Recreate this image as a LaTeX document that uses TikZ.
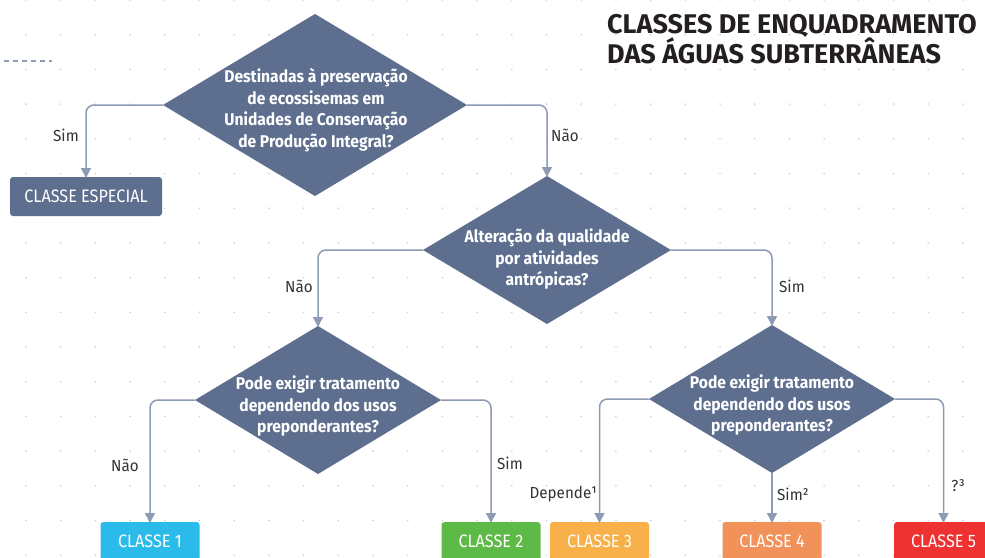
\documentclass[tikz,border=0pt]{standalone}
\usepackage{fontspec}
\setmainfont{Fira Sans}
\newfontfamily\cond[FakeStretch=0.92]{Fira Sans}
\newfontfamily\boxfont[FakeStretch=0.9]{Fira Sans}
\newfontfamily\labfont[FakeStretch=0.95]{Fira Sans}
\newfontfamily\titlefont{Fira Sans}
\usetikzlibrary{shapes.geometric,arrows.meta}
\definecolor{slate}{HTML}{5D6E8E}
\definecolor{conn}{HTML}{8D9BB4}
\definecolor{lbl}{HTML}{333333}
\definecolor{ttl}{HTML}{231F20}
\definecolor{dotc}{HTML}{CFCFCF}
\definecolor{cA}{HTML}{2ABBEB}
\definecolor{cB}{HTML}{5EBA47}
\definecolor{cC}{HTML}{F8B04B}
\definecolor{cD}{HTML}{F1925A}
\definecolor{cE}{HTML}{EE3131}
\tikzset{
  dia/.style={shape=diamond, fill=slate, draw=none, inner sep=0pt, outer sep=0pt},
  diatext/.style={text=white, font=\cond\fontsize{17}{21.5}\selectfont\bfseries, align=center, inner sep=0pt},
  classbox/.style={rectangle, rounded corners=3pt, minimum width=99pt, minimum height=39pt, inner sep=0pt, outer sep=0pt, text=white, font=\boxfont\fontsize{18}{20}\selectfont},
  conn/.style={draw=conn, line width=1.5pt, rounded corners=8pt, -{Triangle[length=10pt,width=10pt]}},
  lab/.style={text=lbl, font=\labfont\fontsize{16}{18}\selectfont, inner sep=0pt},
  ttlstyle/.style={text=ttl, font=\titlefont\fontsize{27}{30}\selectfont\bfseries, inner sep=0pt, anchor=base west},
}
\begin{document}
\begin{tikzpicture}[x=1pt,y=-1pt]
\useasboundingbox (0,0) rectangle (985,557);
\clip (0,0) rectangle (985,557);
\fill[white] (0,0) rectangle (985,557);
% dot grid
\foreach \i in {0,...,28} {
  \foreach \j in {0,...,16} {
    \fill[dotc] ({26+34.7*\i},{34.7*\j}) circle (0.9pt);
  }
}
% dashed line
\coordinate (dashA) at (4,61);
\coordinate (dashB) at (52,61);
\draw[conn, -, dashed, dash pattern=on 5pt off 4pt, line width=1.2pt] (dashA) -- (dashB);
% title
\node[ttlstyle] (t1) at (607,33) {CLASSES DE ENQUADRAMENTO};
\node[ttlstyle] (t2) at (607,63) {DAS ÁGUAS SUBTERRÂNEAS};
% diamonds
\node[dia, minimum width=304pt, minimum height=182pt] (d1) at (315,105) {};
\node[diatext] (d1t) at (316,110) {Destinadas à preservação\\de ecossisemas em\\Unidades de Conservação\\de Produção Integral?};
\node[dia, minimum width=248pt, minimum height=148pt] (d2) at (547,250) {};
\node[diatext] (d2t) at (547,259) {Alteração da qualidade\\por atividades\\antrópicas?};
\node[dia, minimum width=246pt, minimum height=148pt] (d3) at (318,400) {};
\node[diatext] (d3t) at (318,406) {Pode exigir tratamento\\dependendo dos usos\\preponderantes?};
\node[dia, minimum width=246pt, minimum height=148pt] (d4) at (772,399) {};
\node[diatext] (d4t) at (772,405) {Pode exigir tratamento\\dependendo dos usos\\preponderantes?};
% boxes
\node[classbox, fill=slate, minimum width=152pt] (esp) at (86,196.5) {CLASSE ESPECIAL};
\node[classbox, fill=cA, anchor=north] (c1) at (150,522) {CLASSE 1};
\node[classbox, fill=cB, anchor=north] (c2) at (491,522) {CLASSE 2};
\node[classbox, fill=cC, anchor=north] (c3) at (599.5,522) {CLASSE 3};
\node[classbox, fill=cD, anchor=north] (c4) at (772,522) {CLASSE 4};
\node[classbox, fill=cE, anchor=north] (c5) at (943.5,522) {CLASSE 5};
% connectors
\draw[conn] (d1.west) -| ([yshift=-1pt]esp.north);
\draw[conn] (d1.east) -| ([yshift=-1pt]d2.north);
\draw[conn] (d2.west) -| ([yshift=-1pt]d3.north);
\draw[conn] (d2.east) -| ([yshift=-1pt]d4.north);
\draw[conn] (d3.west) -| ([yshift=-1pt]c1.north);
\draw[conn] (d3.east) -| ([yshift=-1pt]c2.north);
\draw[conn] (d4.west) -| ([yshift=-1pt]c3.north);
\draw[conn] (d4.south) -- ([yshift=-1pt]c4.north);
\draw[conn] (d4.east) -| ([yshift=-1pt]c5.north);
% labels
\node[lab] (l1) at (66,135) {Sim};
\node[lab] (l2) at (565,135) {Não};
\node[lab] (l3) at (299,286) {Não};
\node[lab] (l4) at (792,286) {Sim};
\node[lab] (l5) at (125,465) {Não};
\node[lab] (l6) at (510,463) {Sim};
\node[lab, anchor=east] (l7) at (597.5,494) {Depende¹};
\node[lab] (l8) at (793,494) {Sim²};
\node[lab] (l9) at (958,486) {?³};
\end{tikzpicture}
\end{document}
